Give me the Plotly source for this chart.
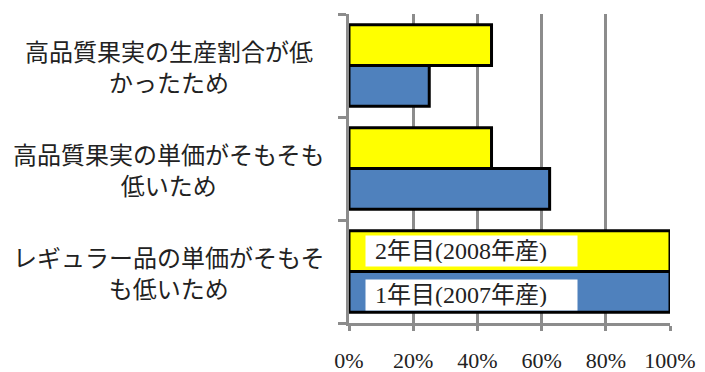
import plotly.graph_objects as go

# Reasons (top to bottom as shown)
categories = [
    "高品質果実の生産割合が低<br>かったため",
    "高品質果実の単価がそもそも<br>低いため",
    "レギュラー品の単価がそもそ<br>も低いため",
]
series_names = ["1年目(2007年産)", "2年目(2008年産)"]
values_2007 = [25.0, 62.5, 100.0]
values_2008 = [44.4, 44.4, 100.0]
x_ticks = [0, 20, 40, 60, 80, 100]
x_tick_labels = ["0%", "20%", "40%", "60%", "80%", "100%"]

FONT = "Liberation Serif, Noto Sans CJK JP, serif"
GRID = "#8c8c8c"

fig = go.Figure()
fig.add_trace(go.Bar(
    y=categories, x=values_2007, name=series_names[0], orientation="h",
    marker=dict(color="#4f81bd", line=dict(color="black", width=3)),
))
fig.add_trace(go.Bar(
    y=categories, x=values_2008, name=series_names[1], orientation="h",
    marker=dict(color="#ffff00", line=dict(color="black", width=3)),
))

fig.update_layout(
    width=705, height=372,
    margin=dict(l=349, r=35, t=14, b=49),
    paper_bgcolor="white", plot_bgcolor="white",
    barmode="group", bargap=0.21, bargroupgap=0,
    showlegend=False,
    font=dict(family=FONT, color="#222", size=21),
)
fig.update_xaxes(
    range=[0, 100], tickvals=x_ticks, ticktext=x_tick_labels,
    showgrid=True, gridcolor=GRID, gridwidth=3,
    showline=True, linecolor=GRID, linewidth=3,
    ticks="outside", ticklen=5, tickwidth=3, tickcolor=GRID,
    ticklabelstandoff=11, automargin=False,
    tickfont=dict(family=FONT, size=22, color="#222"),
    zeroline=False, fixedrange=True,
)
fig.update_yaxes(
    categoryorder="array", categoryarray=categories[::-1],
    showticklabels=False, showgrid=False, automargin=False,
    showline=True, linecolor=GRID, linewidth=3,
    ticks="outside", tickson="boundaries", ticklen=8, tickwidth=3, tickcolor=GRID,
    fixedrange=True,
)

# Category labels, centred lines to the left of the plot
for cat in categories:
    fig.add_annotation(
        x=-0.56, xref="paper", y=cat, yref="y", yshift=-3,
        text=cat, showarrow=False, xanchor="center", align="center",
        font=dict(family=FONT, size=24, color="#222"),
    )

# Series labels in white boxes over the bottom bars
for name, ypos in [(series_names[1], 0.233), (series_names[0], 0.091)]:
    fig.add_annotation(
        x=0.05, xref="paper", y=ypos, yref="paper",
        text="&nbsp;" + name, showarrow=False, xanchor="left", yanchor="middle",
        align="left", width=205, height=24, borderpad=3,
        bgcolor="white",
        font=dict(family=FONT, size=24, color="#222"),
    )

fig.write_html("out.html")
